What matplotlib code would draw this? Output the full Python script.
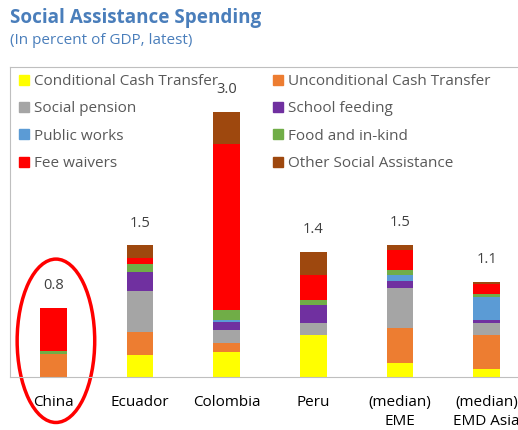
import matplotlib.pyplot as plt
import matplotlib as mpl
from matplotlib.patches import Rectangle, Ellipse
import numpy as np

mpl.rcParams["font.family"] = ["Open Sans", "DejaVu Sans"]

countries = ["China", "Ecuador", "Colombia", "Peru", "(median)\nEME", "(median)\nEMD Asia"]
totals = ["0.8", "1.5", "3.0", "1.4", "1.5", "1.1"]

series_names = ["Conditional Cash Transfer", "Unconditional Cash Transfer",
                "Social pension", "School feeding",
                "Public works", "Food and in-kind",
                "Fee waivers", "Other Social Assistance"]
colors = ["#FFFF00", "#ED7D31", "#A5A5A5", "#7030A0",
          "#5B9BD5", "#70AD47", "#FF0000", "#9E480E"]

# values per country, in percent of GDP
cct = [0.00, 0.25, 0.28, 0.48, 0.16, 0.09]
uct = [0.26, 0.26, 0.11, 0.00, 0.40, 0.39]
pension = [0.00, 0.46, 0.14, 0.13, 0.45, 0.13]
school = [0.00, 0.22, 0.09, 0.20, 0.08, 0.04]
public_works = [0.00, 0.00, 0.03, 0.00, 0.06, 0.26]
food = [0.03, 0.09, 0.11, 0.06, 0.06, 0.03]
fee = [0.49, 0.07, 1.88, 0.29, 0.23, 0.11]
other = [0.00, 0.14, 0.36, 0.26, 0.06, 0.03]

series = [cct, uct, pension, school, public_works, food, fee, other]

fig = plt.figure(figsize=(5.18, 4.30), dpi=100)
ax = fig.add_axes([10/518, 53/430, 520/518, 310/430])

x = np.arange(len(countries))
bottom = np.zeros(len(countries))
for vals, c in zip(series, colors):
    ax.bar(x, vals, 0.31, bottom=bottom, color=c, edgecolor='none')
    bottom += np.array(vals)

for xi, top, lab in zip(x, bottom, totals):
    ax.annotate(lab, (xi, top), xytext=(0, 16), textcoords='offset points',
                ha='center', va='center', fontsize=10.5, color='#404040')

ax.set_xlim(-0.5, 5.5)
ax.set_ylim(0, 3.51)
ax.set_yticks([])
ax.set_xticks(x)
ax.set_xticklabels(countries, fontsize=11, color='black', linespacing=1.4)
ax.tick_params(axis='x', length=0, pad=13)
for s in ['top', 'left', 'bottom']:
    ax.spines[s].set_color('#BFBFBF')
ax.spines['right'].set_visible(False)

# circle around China
ax.add_patch(Ellipse((0.03, 0.41), 0.895, 1.85, fill=False, edgecolor='#FF0000',
                     lw=2.5, clip_on=False))

handles = [Rectangle((0, 0), 1, 1, color=c) for c in colors]
order = [0, 2, 4, 6, 1, 3, 5, 7]
leg = ax.legend([handles[i] for i in order], [series_names[i] for i in order],
                ncol=2, loc='upper left', bbox_to_anchor=(19/518, 1 - 74/430),
                bbox_transform=fig.transFigure, frameon=False, fontsize=11,
                handlelength=0.65, handleheight=0.65, handletextpad=0.3,
                labelspacing=0.81, columnspacing=3.65, borderaxespad=0, borderpad=0)
for t in leg.get_texts():
    t.set_color('#595959')

fig.text(10/518, 1 - 18/430, "Social Assistance Spending", fontsize=13.6,
         fontweight='bold', color='#4A7EBB', va='center', ha='left')
fig.text(10/518, 1 - 40/430, "(In percent of GDP, latest)", fontsize=11,
         color='#4A7EBB', va='center', ha='left')

plt.savefig('out.png', dpi=100)
